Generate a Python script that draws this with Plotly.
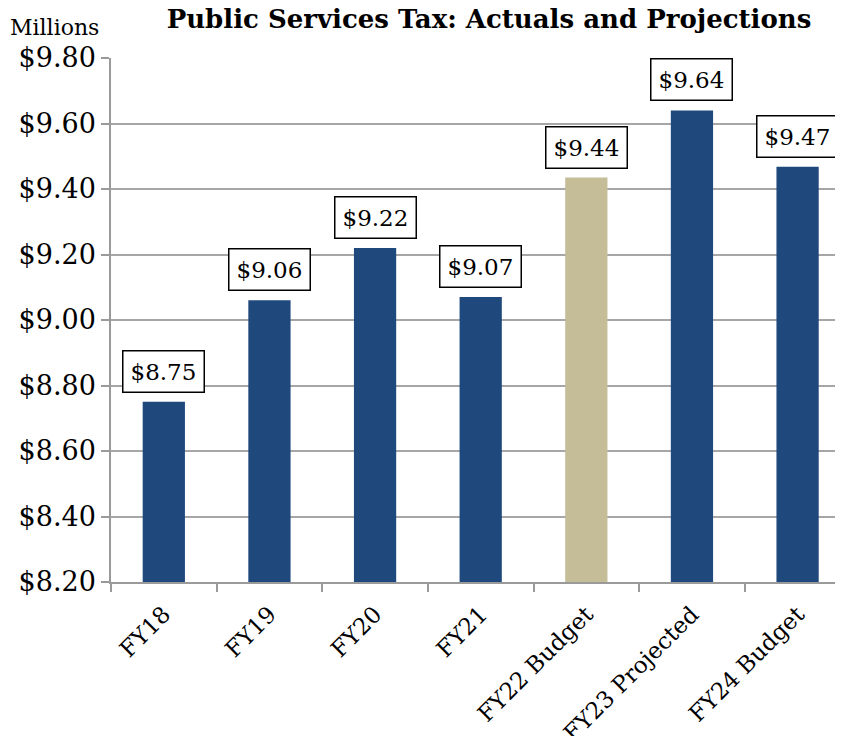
import plotly.graph_objects as go

categories = ["FY18", "FY19", "FY20", "FY21", "FY22 Budget", "FY23 Projected", "FY24 Budget"]
values = [8.75, 9.06, 9.22, 9.07, 9.435, 9.64, 9.468]
labels = ["$8.75", "$9.06", "$9.22", "$9.07", "$9.44", "$9.64", "$9.47"]
bar_colors = ["#1F497D", "#1F497D", "#1F497D", "#1F497D", "#C4BD97", "#1F497D", "#1F497D"]
y_ticks = [8.2, 8.4, 8.6, 8.8, 9.0, 9.2, 9.4, 9.6, 9.8]
y_tick_text = ["$8.20", "$8.40", "$8.60", "$8.80", "$9.00", "$9.20", "$9.40", "$9.60", "$9.80"]
BASE = 8.2

FONT = "DejaVu Serif"
xi = list(range(len(categories)))

W, H = 835, 728
ML, MR, MT, MB = 103, 0, 50, 154
PW = W - ML - MR

fig = go.Figure(go.Bar(
    x=xi, y=[v - BASE for v in values], base=BASE, width=0.4,
    marker=dict(color=bar_colors, line=dict(width=0)),
    hoverinfo="skip",
))

for i, (v, t) in enumerate(zip(values, labels)):
    fig.add_annotation(
        x=i, y=v, text=t, showarrow=False, yanchor="bottom", yshift=9,
        font=dict(family=FONT, size=23, color="black"),
        bordercolor="black", borderwidth=1.5, borderpad=7, bgcolor="white",
    )

fig.add_annotation(
    xref="paper", yref="paper", x=-ML / PW, y=1.0, xanchor="left", yanchor="middle",
    text="Millions", showarrow=False, font=dict(family=FONT, size=22, color="black"),
    yshift=31,
)

fig.update_layout(
    width=W, height=H,
    margin=dict(l=ML, r=MR, t=MT, b=MB),
    plot_bgcolor="white", paper_bgcolor="white",
    showlegend=False,
    title=dict(
        text="<b>Public Services Tax: Actuals and Projections</b>",
        x=0.576, xanchor="center", y=0.985, yanchor="middle",
        font=dict(family=FONT, size=26, color="black"),
    ),
    xaxis=dict(
        tickmode="array", tickvals=xi, ticktext=categories,
        range=[-0.5, 6.43], tickangle=-45, automargin=False,
        ticklabelstandoff=8,
        showgrid=False, ticks="", showline=True, linecolor="#9a9a9a", linewidth=1.5,
        tickfont=dict(family=FONT, size=23, color="black"),
        minor=dict(tickmode="array", tickvals=[i - 0.5 for i in range(8)],
                   ticks="outside", ticklen=8, tickcolor="#9a9a9a", tickwidth=1.5),
    ),
    yaxis=dict(
        range=[8.2, 9.8], tickmode="array", automargin=False,
        tickvals=y_ticks, ticktext=y_tick_text,
        showgrid=True, gridcolor="#a6a6a6", gridwidth=1.5,
        showline=True, linecolor="#9a9a9a", linewidth=1.5,
        ticks="outside", ticklen=8, tickcolor="#9a9a9a", tickwidth=1.5,
        tickfont=dict(family=FONT, size=27, color="black"),
        zeroline=False,
    ),
)

fig.write_html("out.html")
